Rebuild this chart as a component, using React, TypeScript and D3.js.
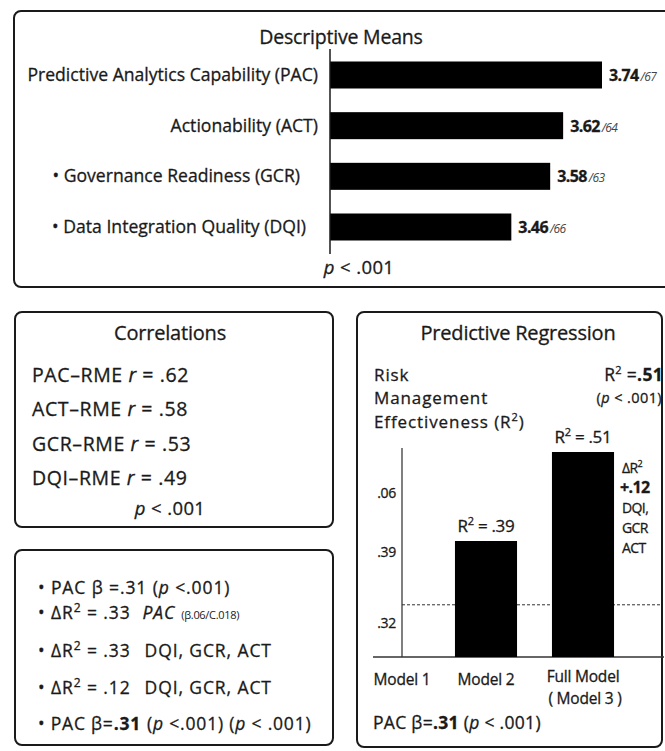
import React from "react";
import * as d3 from "d3";

// ---------- data ----------
const meanLabels = [
  "Predictive Analytics Capability (PAC)",
  "Actionability (ACT)",
  "• Governance Readiness (GCR)",
  "• Data Integration Quality (DQI)",
];
const meanValues = [3.74, 3.62, 3.58, 3.46];
const meanSuffix = ["/67", "/64", "/63", "/66"];

const corrPairs = ["PAC–RME", "ACT–RME", "GCR–RME", "DQI–RME"];
const corrValues = [0.62, 0.58, 0.53, 0.49];

const models = ["Model 1", "Model 2", "Full Model"];
const modelR2: (number | null)[] = [null, 0.39, 0.51];
const yTickValues = [0.455, 0.375, 0.279];
const yTickLabels = [".06", ".39", ".32"];
const dashedRef = 0.304;
const deltaR2 = 0.12;
const deltaVars = ["DQI,", "GCR", "ACT"];

const W = 665;
const H = 751;
const FONT = "'Open Sans', 'Noto Sans', sans-serif";
const INK = "#1a1a1a";

const fmt = (v: number) => d3.format(".2f")(v).replace(/^0/, "");

export default function App() {
  // Descriptive means scales
  const xMean = d3.scaleLinear().domain([2.9, 3.74]).range([330, 602]);
  const yMean = d3.scalePoint<string>().domain(meanLabels).range([75, 227]);
  const barH = 27;
  const labelRight = [318, 318, 300, 306];

  // Correlations
  const yCorr = d3.scalePoint<string>().domain(corrPairs).range([375, 478]);

  // Regression
  const xReg = d3
    .scaleBand<string>()
    .domain(models)
    .range([340.5, 631.5])
    .paddingInner(0.36)
    .paddingOuter(0.18);
  const yReg = d3.scaleLinear().domain([0.2336, 0.51]).range([657, 452]);
  const axisX = 402;

  const sup = (t: string, size = 10, dy = -7) => (
    <tspan dy={dy} fontSize={size}>
      {t}
    </tspan>
  );

  return (
    <svg
      width={W}
      height={H}
      style={{ position: "absolute", left: 0, top: 0, background: "#fff" }}
      fontFamily={FONT}
    >
      <style>{`text { stroke: ${INK}; stroke-width: 0.3px; }`}</style>
      <rect x={0} y={0} width={W} height={H} fill="#fff" />

      {/* ===== Descriptive Means ===== */}
      <rect x={14} y={11} width={700} height={276} rx={7} fill="none" stroke={INK} strokeWidth={2} />
      <text x={341} y={44} textAnchor="middle" fontSize={19.5} fill={INK} letterSpacing={-0.2}>
        Descriptive Means
      </text>
      {meanLabels.map((l, i) => (
        <g key={l}>
          <rect
            x={xMean.range()[0]}
            y={(yMean(l) as number) - barH / 2}
            width={xMean(meanValues[i]) - xMean.range()[0]}
            height={barH}
            fill="#000"
          />
          <text
            x={labelRight[i]}
            y={(yMean(l) as number) + 6}
            textAnchor="end"
            fontSize={17.6}
            fill={INK}
            letterSpacing={0}
          >
            {l}
          </text>
          <text x={xMean(meanValues[i]) + 7} y={(yMean(l) as number) + 6} fontSize={16} fill={INK} letterSpacing={-0.6}>
            <tspan fontWeight="bold">{meanValues[i].toFixed(2)}</tspan>
            <tspan fontSize={12} fontStyle="italic" fill="#444" stroke="none" dx={2}>
              {meanSuffix[i]}
            </tspan>
          </text>
        </g>
      ))}
      <line x1={330} x2={330} y1={49} y2={254} stroke={INK} strokeWidth={1.5} />
      <text x={359} y={274} textAnchor="middle" fontSize={18.5} fill={INK} letterSpacing={0.4}>
        <tspan fontStyle="italic">p</tspan> &lt; .001
      </text>

      {/* ===== Correlations ===== */}
      <rect x={15} y={312} width={318} height={215} rx={7} fill="none" stroke={INK} strokeWidth={2} />
      <text x={170} y={340} textAnchor="middle" fontSize={20} fill={INK} letterSpacing={-0.2}>
        Correlations
      </text>
      {corrPairs.map((p, i) => (
        <text key={p} x={32} y={(yCorr(p) as number) + 7} fontSize={19.5} fill={INK} letterSpacing={0.6}>
          {p} <tspan fontStyle="italic">r</tspan> = {fmt(corrValues[i])}
        </text>
      ))}
      <text x={170} y={515} textAnchor="middle" fontSize={18.5} fill={INK} letterSpacing={0.4}>
        <tspan fontStyle="italic">p</tspan> &lt; .001
      </text>

      {/* ===== Summary box ===== */}
      <rect x={15} y={550} width={318} height={195} rx={7} fill="none" stroke={INK} strokeWidth={2} />
      <g fontSize={17.5} fill={INK} letterSpacing={0.9}>
        <text x={38} y={594}>
          • PAC β =.31 (<tspan fontStyle="italic">p</tspan> &lt;.001)
        </text>
        <text x={38} y={619}>
          • ΔR{sup("2", 12)}
          <tspan dy={7}> = .33</tspan>
          <tspan fontStyle="italic" dx={12}>PAC</tspan>
          <tspan fontSize={11} letterSpacing={-0.3} stroke="none" dx={6}>(β.06/C.018)</tspan>
        </text>
        <text x={38} y={657}>
          • ΔR{sup("2", 12)}
          <tspan dy={7}> = .33</tspan>
          <tspan dx={14}>DQI, GCR, ACT</tspan>
        </text>
        <text x={38} y={694}>
          • ΔR{sup("2", 12)}
          <tspan dy={7}> = .12</tspan>
          <tspan dx={14}>DQI, GCR, ACT</tspan>
        </text>
        <text x={38} y={730} letterSpacing={0.8}>
          • PAC β=<tspan fontWeight="bold">.31</tspan>
          <tspan dx={6}>(</tspan>
          <tspan fontStyle="italic">p</tspan> &lt;.001) (<tspan fontStyle="italic">p</tspan> &lt; .001)
        </text>
      </g>

      {/* ===== Predictive Regression ===== */}
      <rect x={357} y={312} width={305} height={435} rx={7} fill="none" stroke={INK} strokeWidth={2} />
      <text x={518} y={340} textAnchor="middle" fontSize={20} fill={INK} letterSpacing={-0.2}>
        Predictive Regression
      </text>
      <g fontSize={17} fill={INK} letterSpacing={0.9}>
        <text x={374} y={381}>Risk</text>
        <text x={374} y={404}>Management</text>
        <text x={374} y={428}>
          Effectiveness (R{sup("2", 11)}
          <tspan dy={7}>)</tspan>
        </text>
      </g>
      <text x={663} y={381} textAnchor="end" fontSize={17.5} fill={INK} letterSpacing={0.3}>
        R{sup("2", 11)}
        <tspan dy={7}> =</tspan>
        <tspan fontWeight="bold">.51</tspan>
      </text>
      <text x={662} y={403} textAnchor="end" fontSize={14.5} fill={INK} letterSpacing={0.4}>
        (<tspan fontStyle="italic">p</tspan> &lt; .001)
      </text>

      {/* axes */}
      <line x1={axisX} x2={axisX} y1={yReg(0.51) - 4} y2={yReg.range()[0]} stroke="#555" strokeWidth={1.5} />
      <line x1={373} x2={664} y1={yReg.range()[0]} y2={yReg.range()[0]} stroke="#333" strokeWidth={1.5} />
      <line
        x1={axisX}
        x2={661}
        y1={yReg(dashedRef)}
        y2={yReg(dashedRef)}
        stroke="#333"
        strokeWidth={1}
        strokeDasharray="3,2"
      />
      {yTickValues.map((v, i) => (
        <text key={i} x={396} y={yReg(v) + 5} textAnchor="end" fontSize={14} fill={INK} letterSpacing={-0.3}>
          {yTickLabels[i]}
        </text>
      ))}

      {/* bars */}
      {models.map((m, i) => {
        const v = modelR2[i];
        const x0 = xReg(m) as number;
        const bw = xReg.bandwidth();
        const cx = Math.max(x0 + bw / 2, axisX);
        return (
          <g key={m}>
            {v !== null && (
              <>
                <rect x={x0} y={yReg(v)} width={bw} height={yReg.range()[0] - yReg(v)} fill="#000" />
                <text x={x0 + bw / 2} y={yReg(v) - 9} textAnchor="middle" fontSize={17} fill={INK} letterSpacing={-0.3}>
                  R{sup("2", 11)}
                  <tspan dy={7}> = {fmt(v)}</tspan>
                </text>
              </>
            )}
            <text
              x={cx}
              y={i === models.length - 1 ? 682 : 685}
              textAnchor="middle"
              fontSize={15.5}
              fill={INK}
              letterSpacing={-0.2}
            >
              {m}
            </text>
          </g>
        );
      })}
      <text
        x={(xReg("Full Model") as number) + xReg.bandwidth() / 2 + 2}
        y={704}
        textAnchor="middle"
        fontSize={15.5}
        fill={INK}
        letterSpacing={-0.2}
      >
        ( Model 3 )
      </text>

      {/* delta annotation */}
      <g fontSize={14} fill={INK} letterSpacing={-0.6}>
        <text x={622} y={473}>
          ΔR{sup("2", 9, -6)}
        </text>
        <text x={620} y={493} fontSize={16} fontWeight="bold">
          +{fmt(deltaR2)}
        </text>
        {deltaVars.map((d, i) => (
          <text key={d} x={622} y={513 + i * 20}>
            {d}
          </text>
        ))}
      </g>

      <text x={373} y={729} fontSize={17.5} fill={INK} letterSpacing={0.3}>
        PAC β=<tspan fontWeight="bold">.31</tspan> (<tspan fontStyle="italic">p</tspan> &lt; .001)
      </text>
    </svg>
  );
}
